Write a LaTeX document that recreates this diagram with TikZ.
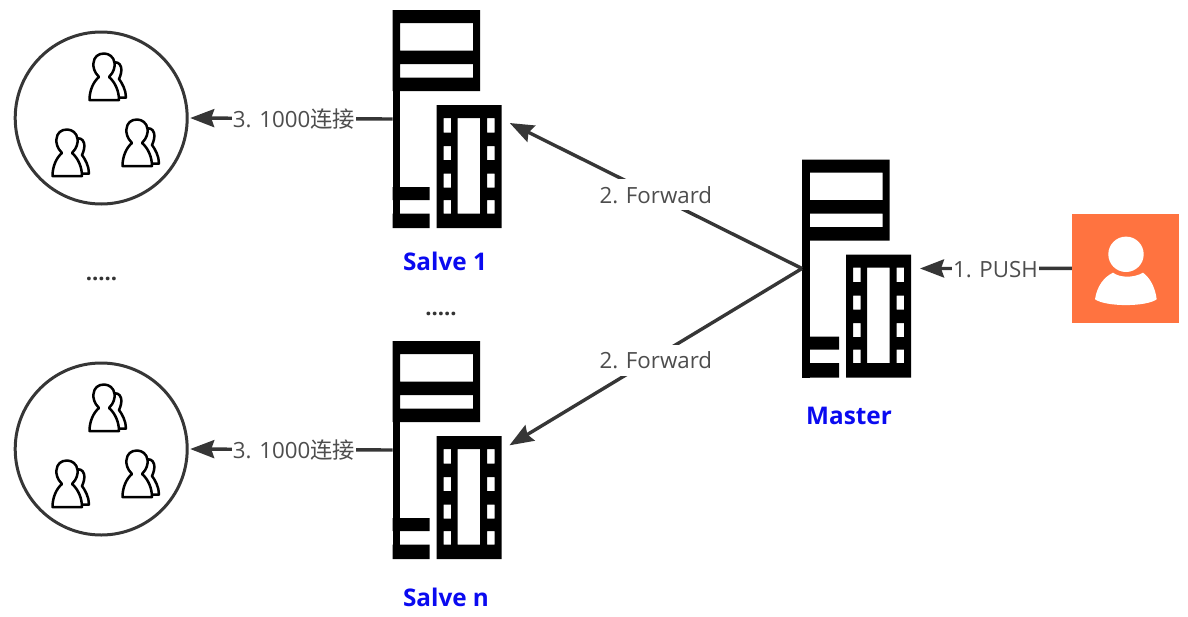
\documentclass[tikz,border=0pt]{standalone}
\usepackage{fontspec}
\setmainfont{Open Sans}
\newfontfamily\cjkfont{Noto Sans CJK SC}
\usetikzlibrary{arrows.meta}
\definecolor{linegray}{HTML}{363636}
\definecolor{textgray}{HTML}{4D4D4D}
\definecolor{pushorange}{HTML}{FF7340}
\definecolor{nameblue}{HTML}{0A0AF0}
\tikzset{
  serverbox/.style={minimum width=109pt,minimum height=218pt,inner sep=0pt,outer sep=0pt},
  groupcircle/.style={draw=linegray,line width=3pt,circle,minimum size=172pt,inner sep=0pt,outer sep=0pt},
  pushbox/.style={fill=pushorange,minimum width=107pt,minimum height=109pt,inner sep=0pt,outer sep=0pt},
  flow/.style={draw=linegray,line width=3.4pt,-{Stealth[length=24pt,width=18pt,inset=3pt]},shorten >=9pt},
  flowlabel/.style={fill=white,text=textgray,font=\fontsize{22.3}{26}\selectfont,inner sep=1pt,minimum height=31pt,xshift=4pt,yshift=-1pt},
  servername/.style={text=nameblue,font=\fontsize{24.3}{29}\selectfont\bfseries},
  morelabel/.style={text=black!80,font=\fontsize{22}{26}\selectfont\bfseries},
  servericon/.pic={
    \fill[black,even odd rule] (-54.5,-109) rectangle (33,-28) (-47,-96) rectangle (26,-68.5) (-47,-55) rectangle (26,-41.5);
    \fill[black] (-54.5,-109) rectangle (-47,109);
    \fill[black] (-54.5,68) rectangle (-17.5,81) (-54.5,94.5) rectangle (-17.5,109);
    \fill[black,even odd rule] (-10.5,-14) rectangle (54.5,109)
      (10.5,-1) rectangle (33,94.5)
      (-3.5,-1) rectangle (4,13.5) (-3.5,27) rectangle (4,41) (-3.5,54.5) rectangle (4,68.5) (-3.5,81) rectangle (4,94.5)
      (40,-1) rectangle (47.5,13.5) (40,27) rectangle (47.5,41) (40,54.5) rectangle (47.5,68.5) (40,81) rectangle (47.5,94.5);
  },
  personicon/.pic={
    \draw[line width=2.5pt,fill=white,line join=round] (28,44.5) -- (37,44.5) .. controls (37,37) and (33,30) .. (30,26)
      .. controls (32,22) and (33,17) .. (32,14) .. controls (31,10) and (27,8) .. (23,10);
    \draw[line width=2.5pt,fill=white,line join=round] (0.5,47) -- (30,47) .. controls (30,38) and (26,29) .. (20,24)
      .. controls (25,19) and (26,14) .. (25.5,10) .. controls (25,4) and (20,0.5) .. (15,0.5)
      .. controls (9,0.5) and (5,4) .. (4.5,10) .. controls (4,14) and (5,19) .. (10,24)
      .. controls (4,29) and (0.5,38) .. (0.5,47) -- cycle;
  },
}
\begin{document}
\begin{tikzpicture}[x=1pt,y=-1pt]
  \useasboundingbox (0,0) rectangle (1188,616);

  \node[serverbox] (salve1) at (447.2,119) {};
  \node[serverbox] (salven) at (447.2,450) {};
  \node[serverbox] (master) at (856.5,268.5) {};
  \pic at (salve1) {servericon};
  \pic at (salven) {servericon};
  \pic at (master) {servericon};

  \node[groupcircle] (group1) at (101.2,118) {};
  \node[groupcircle] (groupn) at (101.2,449) {};
  \pic at (89,53) {personicon};
  \pic at (52,129) {personicon};
  \pic at (122,119) {personicon};
  \pic at (89,384) {personicon};
  \pic at (52,460) {personicon};
  \pic at (122,450) {personicon};

  \node[pushbox] (pusher) at (1125.3,268.3) {};
  \fill[white] (1126,254.3) circle (17.7);
  \fill[white] (1095,299.3) .. controls (1097,286) and (1104,277) .. (1113,272.7)
    .. controls (1120,278) and (1134,278) .. (1143,272.7)
    .. controls (1149,277) and (1155,286) .. (1156.7,299.3)
    .. controls (1146,307) and (1106,307) .. (1095,299.3) -- cycle;

  \draw[flow] (pusher.west) -- node[flowlabel] (push) {1. PUSH} (master.east);
  \draw[flow] (master.west) -- node[flowlabel] (forward1) {2. Forward} (salve1.east);
  \draw[flow] (master.west) -- node[flowlabel] (forwardn) {2. Forward} (salven.east);
  \draw[flow,shorten >=3pt] (salve1.west) -- node[flowlabel] (conn1) {3. 1000{\cjkfont 连接}} (group1.east);
  \draw[flow,shorten >=3pt] (salven.west) -- node[flowlabel] (connn) {3. 1000{\cjkfont 连接}} (groupn.east);

  \node[servername] (name1) at (445,261) {Salve 1};
  \node[servername] (namen) at (446,597) {Salve n};
  \node[servername] (namem) at (849,416) {Master};
  \node[morelabel] (more1) at (101.5,279) {.....};
  \node[morelabel] (moren) at (441,314) {.....};
\end{tikzpicture}
\end{document}
